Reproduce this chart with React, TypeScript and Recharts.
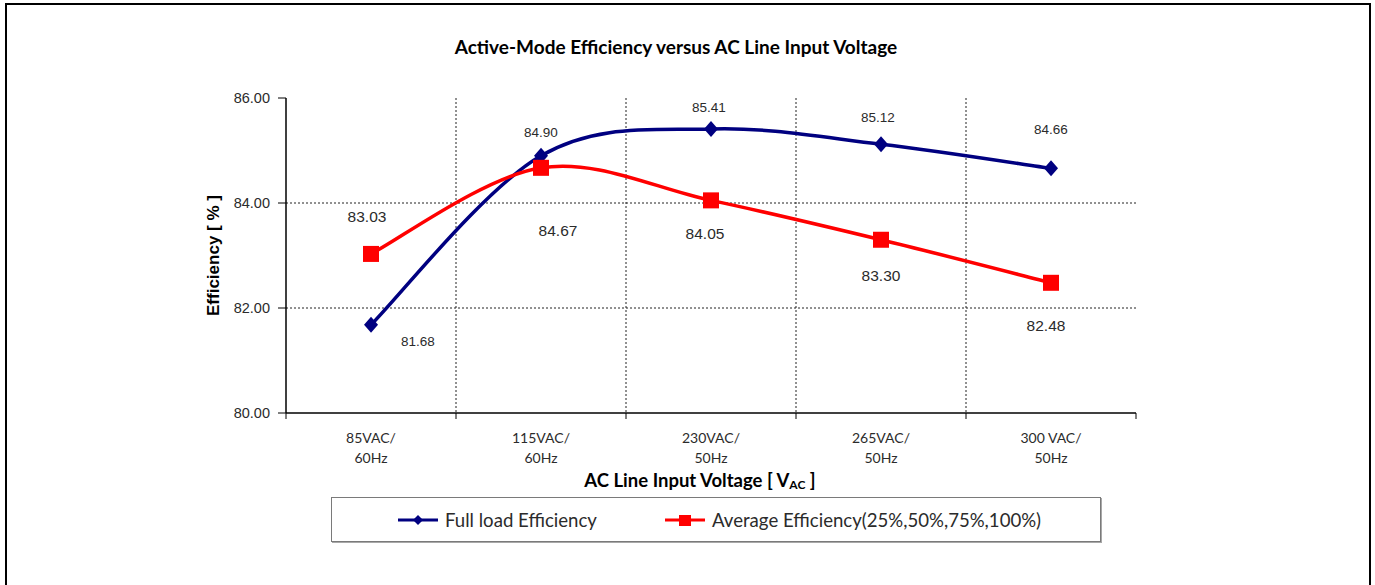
import {
  CartesianGrid,
  LabelList,
  Legend,
  Line,
  LineChart,
  XAxis,
  YAxis,
} from "recharts";

const categories = [
  "85VAC/60Hz",
  "115VAC/60Hz",
  "230VAC/50Hz",
  "265VAC/50Hz",
  "300 VAC/50Hz",
];
const fullLoadEfficiency = [81.68, 84.9, 85.41, 85.12, 84.66];
const averageEfficiency = [83.03, 84.67, 84.05, 83.3, 82.48];
const yTicks = [80, 82, 84, 86];
const gridValues = [82, 84];

const data = categories.map((name, i) => ({
  name,
  full: fullLoadEfficiency[i],
  avg: averageEfficiency[i],
}));

const NAVY = "#000080";
const RED = "#ff0000";
const TEXT = "#2b2b2b";

// where each value label sits, relative to its point
const fullLabelShift = [
  [47, 17],
  [0, -23],
  [-2, -21],
  [-3, -27],
  [0, -39],
];
const avgLabelShift = [
  [-4, -37],
  [17, 63],
  [-6, 33],
  [0, 36],
  [-5, 43],
];

// Excel-like smoothed line (Catmull-Rom through every point)
function excelSmooth(context: any) {
  let pts: number[][] = [];
  return {
    areaStart() {},
    areaEnd() {},
    lineStart() {
      pts = [];
    },
    point(x: number, y: number) {
      pts.push([+x, +y]);
    },
    lineEnd() {
      if (!pts.length) return;
      context.moveTo(pts[0][0], pts[0][1]);
      for (let i = 0; i < pts.length - 1; i++) {
        const p0 = pts[Math.max(i - 1, 0)];
        const p1 = pts[i];
        const p2 = pts[i + 1];
        const p3 = pts[Math.min(i + 2, pts.length - 1)];
        context.bezierCurveTo(
          p1[0] + (p2[0] - p0[0]) / 6,
          p1[1] + (p2[1] - p0[1]) / 6,
          p2[0] - (p3[0] - p1[0]) / 6,
          p2[1] - (p3[1] - p1[1]) / 6,
          p2[0],
          p2[1]
        );
      }
    },
  };
}

function DiamondDot(props: any) {
  const { cx, cy, index } = props;
  if (cx == null || cy == null) return null;
  return (
    <polygon
      key={`diamond-${index}`}
      points={`${cx},${cy - 8} ${cx + 7},${cy} ${cx},${cy + 8} ${cx - 7},${cy}`}
      fill={NAVY}
    />
  );
}

function SquareDot(props: any) {
  const { cx, cy, index } = props;
  if (cx == null || cy == null) return null;
  return (
    <rect key={`square-${index}`} x={cx - 8} y={cy - 8} width={16} height={16} fill={RED} />
  );
}

function makeValueLabel(shift: number[][], size: number) {
  return (props: any) => {
    const { x, y, value, index } = props;
    const [dx, dy] = shift[index] ?? [0, -20];
    return (
      <text
        x={x + dx}
        y={y + dy}
        textAnchor="middle"
        dominantBaseline="central"
        fontFamily="'Liberation Sans', Arial, sans-serif"
        fontSize={size}
        fill={TEXT}
      >
        {Number(value).toFixed(2)}
      </text>
    );
  };
}

function CategoryTick(props: any) {
  const { x, y, payload, index, width, visibleTicksCount } = props;
  const half = payload?.offset || width / visibleTicksCount / 2;
  const label = String(payload.value);
  const cut = label.indexOf("/") + 1;
  const top = y - 6;
  return (
    <g>
      <line x1={x - half} x2={x - half} y1={top} y2={y} stroke="#000" />
      {index === visibleTicksCount - 1 && (
        <line x1={x + half} x2={x + half} y1={top} y2={y} stroke="#000" />
      )}
      <text
        x={x}
        textAnchor="middle"
        fontFamily="Lato, sans-serif"
        fontSize={14}
        fill={TEXT}
      >
        <tspan x={x} y={y + 18} dominantBaseline="central">
          {label.slice(0, cut)}
        </tspan>
        <tspan x={x} y={y + 38} dominantBaseline="central">
          {label.slice(cut)}
        </tspan>
      </text>
    </g>
  );
}

function XTitle(props: any) {
  const { viewBox } = props;
  const cx = viewBox.x + viewBox.width / 2 - 11;
  const cy = viewBox.y + 67;
  return (
    <text
      x={cx}
      y={cy}
      textAnchor="middle"
      dominantBaseline="central"
      fontFamily="Lato, sans-serif"
      fontWeight={700}
      fontSize={18.5}
      fill="#000"
    >
      AC Line Input Voltage [ V
      <tspan fontSize={12} dy={4}>
        AC
      </tspan>
      <tspan dy={-4}> ]</tspan>
    </text>
  );
}

function YTitle(props: any) {
  const { viewBox } = props;
  const cx = viewBox.x + 13;
  const cy = viewBox.y + viewBox.height / 2;
  return (
    <text
      x={cx}
      y={cy}
      transform={`rotate(-90 ${cx} ${cy})`}
      textAnchor="middle"
      dominantBaseline="central"
      fontFamily="'Liberation Sans', Arial, sans-serif"
      fontWeight={700}
      fontSize={17}
      fill="#000"
    >
      Efficiency [ % ]
    </text>
  );
}

const legendOrder = ["full", "avg"];

function LegendBox(props: any) {
  const payload = [...(props.payload ?? [])].sort(
    (a: any, b: any) => legendOrder.indexOf(a.dataKey) - legendOrder.indexOf(b.dataKey)
  );
  const starts = [66, 333];
  return (
    <div
      style={{
        position: "relative",
        boxSizing: "border-box",
        width: "100%",
        height: "100%",
        border: "1px solid #7a7a7a",
        boxShadow: "1px 1px 0 #a8a8a8",
        background: "#fff",
        fontFamily: "Lato, sans-serif",
        fontSize: 18.6,
        color: TEXT,
      }}
    >
      {payload.map((entry: any, i: number) => (
        <div
          key={entry.value}
          style={{
            position: "absolute",
            left: starts[i],
            top: 0,
            height: "100%",
            display: "flex",
            alignItems: "center",
            whiteSpace: "nowrap",
          }}
        >
          <svg width={40} height={16} style={{ marginRight: 7 }}>
            <line x1={0} x2={40} y1={8} y2={8} stroke={entry.color} strokeWidth={3} />
            {entry.dataKey === "full" ? (
              <polygon points="20,3 25,8 20,13 15,8" fill={entry.color} />
            ) : (
              <rect x={14} y={3} width={12} height={11} fill={entry.color} />
            )}
          </svg>
          <span>{entry.value}</span>
        </div>
      ))}
    </div>
  );
}

export default function App() {
  return (
    <div style={{ position: "absolute", left: 0, top: 0, width: 1375, height: 585 }}>
      <div
        style={{
          position: "absolute",
          left: 5,
          top: 3,
          width: 1366,
          height: 582,
          border: "2px solid #000",
          borderBottom: "none",
          background: "#fff",
          boxSizing: "border-box",
        }}
      />
      <div
        style={{
          position: "absolute",
          left: 0,
          top: 36,
          width: 1352,
          textAlign: "center",
          fontFamily: "Lato, sans-serif",
          fontWeight: 700,
          fontSize: 19,
          lineHeight: "22px",
          color: "#000",
        }}
      >
        Active-Mode Efficiency versus AC Line Input Voltage
      </div>
      <div style={{ position: "absolute", left: 0, top: 0 }}>
        <LineChart
          width={1375}
          height={585}
          data={data}
          margin={{ top: 98, right: 239, bottom: 112, left: 200 }}
        >
          <CartesianGrid
            stroke="#222"
            strokeDasharray="2 2"
            horizontalValues={gridValues}
            verticalCoordinatesGenerator={({ offset }: any) =>
              categories
                .slice(1)
                .map((_, i) => offset.left + ((i + 1) * offset.width) / categories.length)
            }
          />
          <XAxis
            xAxisId="top"
            orientation="top"
            dataKey="name"
            scale="band"
            height={0}
            tick={false}
            tickLine={false}
            axisLine={{ stroke: "#8c8c8c", strokeWidth: 2 }}
          />
          <YAxis
            yAxisId="right"
            orientation="right"
            width={0}
            domain={[80, 86]}
            tick={false}
            tickLine={false}
            axisLine={{ stroke: "#8c8c8c", strokeWidth: 2 }}
          />
          <XAxis
            dataKey="name"
            scale="band"
            height={60}
            interval={0}
            tickLine={false}
            tickSize={6}
            tickMargin={0}
            axisLine={{ stroke: "#000", strokeWidth: 1.5 }}
            tick={<CategoryTick />}
            label={{ content: <XTitle /> }}
          />
          <YAxis
            width={86}
            domain={[80, 86]}
            ticks={yTicks}
            interval={0}
            tickFormatter={(v: number) => v.toFixed(2)}
            tickSize={8}
            tickMargin={8}
            axisLine={{ stroke: "#000", strokeWidth: 1.5 }}
            tickLine={{ stroke: "#000" }}
            tick={{
              fontFamily: "'Liberation Sans', Arial, sans-serif",
              fontSize: 14.5,
              fill: TEXT,
            }}
            label={{ content: <YTitle /> }}
          />
          <Legend
            layout="horizontal"
            verticalAlign="middle"
            align="center"
            wrapperStyle={{ left: 331, top: 497, width: 770, height: 45 }}
            content={<LegendBox />}
          />
          <Line
            name="Full load Efficiency"
            dataKey="full"
            type={excelSmooth as any}
            stroke={NAVY}
            strokeWidth={3.5}
            dot={DiamondDot}
            activeDot={false}
            isAnimationActive={false}
          >
            <LabelList dataKey="full" content={makeValueLabel(fullLabelShift, 13.5)} />
          </Line>
          <Line
            name="Average Efficiency(25%,50%,75%,100%)"
            dataKey="avg"
            type={excelSmooth as any}
            stroke={RED}
            strokeWidth={3.5}
            dot={SquareDot}
            activeDot={false}
            isAnimationActive={false}
          >
            <LabelList dataKey="avg" content={makeValueLabel(avgLabelShift, 15.5)} />
          </Line>
        </LineChart>
      </div>
    </div>
  );
}
